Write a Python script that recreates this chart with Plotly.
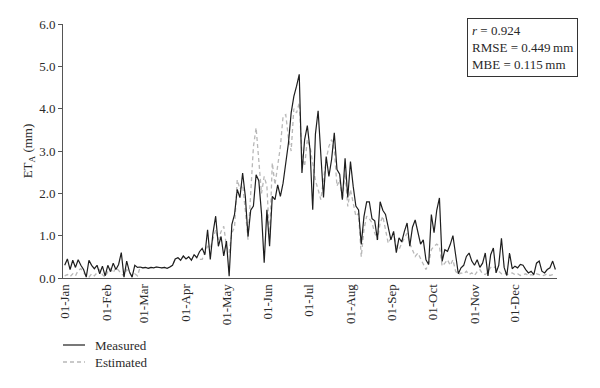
import pandas as pd
import plotly.graph_objects as go

start_date = "2015-01-01"
step_days = 2

measured = [
    0.30, 0.45, 0.20, 0.42, 0.25, 0.43, 0.30, 0.20, 0.02, 0.42,
    0.30, 0.22, 0.30, 0.10, 0.28, 0.05, 0.30, 0.15, 0.35, 0.20,
    0.32, 0.60, 0.02, 0.40, 0.15, 0.02, 0.30, 0.25, 0.26, 0.24,
    0.25, 0.23, 0.25, 0.24, 0.26, 0.25, 0.24, 0.25, 0.23, 0.26,
    0.30, 0.45, 0.48, 0.42, 0.52, 0.45, 0.50, 0.42, 0.55, 0.48,
    0.62, 0.70, 0.55, 1.14, 0.44, 1.06, 1.46, 0.75, 0.98, 0.52,
    0.87, 0.04, 1.26, 1.50, 2.09, 1.90, 2.48, 1.93, 0.98, 1.60,
    1.70, 2.44, 2.30, 1.53, 0.36, 1.61, 0.75, 1.93, 1.85, 2.20,
    1.93, 2.24, 2.72, 3.19, 3.90, 4.29, 4.53, 4.81, 2.48, 3.27,
    3.60, 3.03, 1.61, 3.40, 3.95, 2.87, 1.90, 2.87, 2.40, 2.80,
    3.43, 2.56, 2.45, 1.85, 2.83, 1.90, 2.75, 2.17, 1.70, 1.61,
    0.79, 1.45, 1.80, 1.80, 1.40, 1.35, 0.90, 1.80, 1.60, 1.50,
    1.20, 0.90, 1.10, 0.60, 0.95, 0.85, 1.10, 1.30, 0.75, 1.20,
    1.37, 1.10, 0.80, 0.90, 0.43, 0.32, 1.50, 1.07, 1.60, 1.89,
    0.39, 0.67, 0.63, 0.79, 1.00, 0.55, 0.10, 0.24, 0.30, 0.51,
    0.59, 0.40, 0.30, 0.43, 0.25, 0.35, 0.59, 0.05, 0.55, 0.71,
    0.12, 0.30, 0.94, 0.25, 0.06, 0.59, 0.22, 0.28, 0.24, 0.32,
    0.30, 0.20, 0.12, 0.16, 0.08, 0.35, 0.40, 0.16, 0.12, 0.20,
    0.24, 0.40, 0.20,
]

estimated = [
    0.05, 0.08, 0.03, 0.10, 0.05, 0.18, 0.22, 0.12, 0.05, 0.02,
    0.10, 0.05, 0.12, 0.20, 0.08, 0.02, 0.15, 0.22, 0.12, 0.25,
    0.18, 0.10, 0.05, 0.20, 0.12, 0.05, 0.10, 0.05, 0.26, 0.24,
    0.25, 0.23, 0.25, 0.24, 0.26, 0.25, 0.24, 0.25, 0.23, 0.26,
    0.30, 0.45, 0.48, 0.42, 0.52, 0.45, 0.50, 0.42, 0.55, 0.48,
    0.44, 0.44, 0.60, 0.75, 0.70, 0.90, 1.14, 0.90, 1.10, 1.22,
    0.75, 0.60, 1.06, 1.20, 2.32, 2.10, 2.20, 1.60, 0.90, 2.00,
    3.10, 3.55, 2.80, 2.00, 2.40, 2.17, 0.90, 2.72, 2.20, 2.72,
    3.10, 3.82, 3.86, 3.30, 3.00, 4.00, 3.90, 4.14, 2.90, 2.64,
    3.27, 3.10, 2.64, 2.30, 2.09, 1.85, 2.32, 2.80, 3.11, 3.27,
    3.03, 2.17, 2.32, 1.85, 2.48, 1.69, 2.09, 1.80, 1.46, 1.53,
    0.50, 1.14, 1.46, 1.40, 1.30, 1.06, 0.90, 1.30, 1.46, 1.14,
    0.82, 0.95, 1.06, 0.75, 0.67, 0.82, 0.95, 1.06, 0.82, 0.67,
    0.51, 0.59, 0.45, 0.35, 0.20, 0.35, 0.67, 0.75, 0.80, 0.75,
    0.28, 0.35, 0.43, 0.30, 0.43, 0.16, 0.08, 0.12, 0.10, 0.16,
    0.08, 0.12, 0.06, 0.15, 0.20, 0.10, 0.08, 0.15, 0.25, 0.28,
    0.22, 0.15, 0.10, 0.12, 0.08, 0.10, 0.12, 0.08, 0.10, 0.06,
    0.08, 0.10, 0.05, 0.08, 0.06, 0.10, 0.08, 0.05, 0.07, 0.10,
    0.06, 0.08, 0.05,
]

month_ticks = ["2015-%02d-01" % m for m in range(1, 13)]
y_ticks = [0, 1, 2, 3, 4, 5, 6]
stats_lines = ["<i>r</i> = 0.924", "RMSE = 0.449\u2009mm", "MBE = 0.115\u2009mm"]
series_names = ["Measured", "Estimated"]

dates = pd.date_range(start_date, periods=len(measured), freq=f"{step_days}D")

FONT = "Liberation Serif"
TXT = "#2a2a2a"
MEAS_LINE = dict(color="#1e1e1e", width=1.2)
EST_LINE = dict(color="#b8b8b8", width=1.3, dash="4px,3px")

fig = go.Figure()
fig.add_trace(go.Scatter(x=dates, y=estimated, mode="lines",
                         name=series_names[1], line=EST_LINE, showlegend=False))
fig.add_trace(go.Scatter(x=dates, y=measured, mode="lines",
                         name=series_names[0], line=MEAS_LINE, showlegend=False))

# plot area: x 63..557 px, y 24..278 px
PW, PH = 494.0, 254.0
def px_x(px):
    return (px - 63) / PW
def px_y(py):
    return (278 - py) / PH

shapes = []
annotations = []
for name, style, py in [(series_names[0], MEAS_LINE, 345), (series_names[1], EST_LINE, 362)]:
    shapes.append(dict(type="line", xref="paper", yref="paper",
                       x0=px_x(63), x1=px_x(85), y0=px_y(py), y1=px_y(py),
                       line=style))
    annotations.append(dict(xref="paper", yref="paper", x=px_x(93), y=px_y(py),
                            xanchor="left", yanchor="middle", text=name,
                            showarrow=False,
                            font=dict(family=FONT, size=13, color=TXT)))

annotations.append(dict(
    xref="paper", yref="paper", x=px_x(578), y=px_y(18),
    xanchor="right", yanchor="top", align="left",
    text="<br>".join(stats_lines), showarrow=False,
    font=dict(family=FONT, size=13, color=TXT),
    bordercolor="#333", borderwidth=1, borderpad=4, bgcolor="white",
))

fig.update_layout(
    width=600, height=388,
    margin=dict(l=63, r=43, t=24, b=110, autoexpand=False),
    paper_bgcolor="white", plot_bgcolor="white",
    font=dict(family=FONT, size=13, color=TXT),
    showlegend=False, hovermode=False,
    xaxis=dict(
        range=["2014-12-30 18:00", "2016-01-01 05:00"],
        tickvals=month_ticks, tickformat="%d-%b", tickangle=-90,
        showgrid=False, zeroline=False, automargin=False,
        showline=True, linecolor="#555", linewidth=1,
        ticks="", ticklen=0,
        tickfont=dict(family=FONT, size=13, color=TXT),
    ),
    yaxis=dict(
        range=[0, 6], tickvals=y_ticks, tickformat=".1f",
        showgrid=False, zeroline=False, automargin=False,
        showline=True, linecolor="#555", linewidth=1,
        ticks="outside", ticklen=4, tickcolor="#555",
        tickfont=dict(family=FONT, size=13, color=TXT),
        title=dict(text="ET<sub>A</sub> (mm)", standoff=3,
                   font=dict(family=FONT, size=13, color=TXT)),
    ),
    shapes=shapes,
    annotations=annotations,
)

fig.write_html(
    "out.html",
    config={"displayModeBar": False},
    post_script="document.body.style.margin='0px';document.body.style.overflow='hidden';",
)
